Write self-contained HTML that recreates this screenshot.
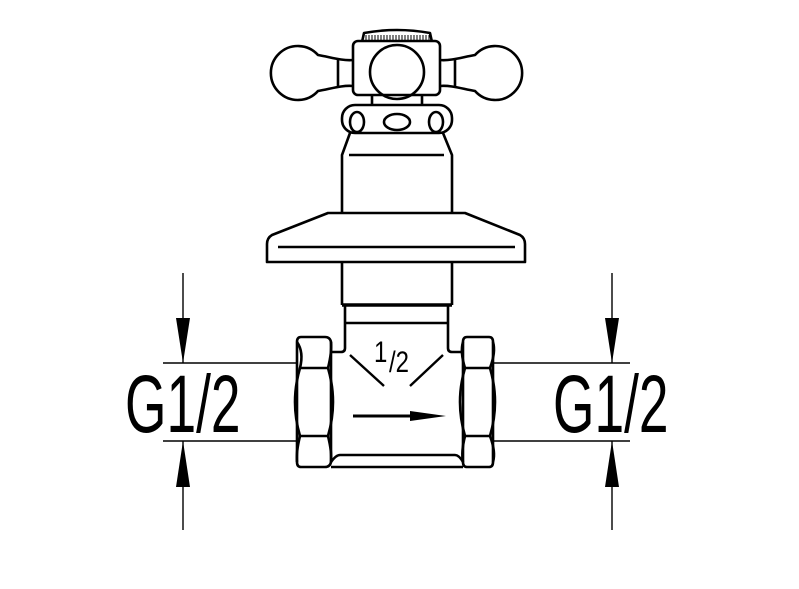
<!DOCTYPE html>
<html><head><style>html,body{margin:0;padding:0;background:#fff}svg{display:block}</style></head>
<body>
<svg width="799" height="589" viewBox="0 0 799 589" xmlns="http://www.w3.org/2000/svg">
<g fill="none" stroke="#000" stroke-width="2.6" stroke-linejoin="round">
<!-- knurl -->
<path d="M362,42 L364,33 Q397,27 430,33 L432,42 Z" fill="#fff"/>
<g stroke-width="1">
<path d="M366,35V41M369,35V41M372,35V41M375,35V41M378,35V41M381,35V41M384,35V41M387,35V41M390,35V41M393,35V41M396,35V41M399,35V41M402,35V41M405,35V41M408,35V41M411,35V41M414,35V41M417,35V41M420,35V41M423,35V41M426,35V41M429,35V41"/>
</g>
<!-- lobes -->
<path d="M353,60 C342,61 330,57 318,55 A27,27 0 1 0 318,91 C330,89 342,85 353,86" fill="#fff"/>
<path d="M338,60V86"/>
<path d="M440,60 C451,61 463,57 475,55 A27,27 0 1 1 475,91 C463,89 451,85 440,86" fill="#fff"/>
<path d="M455,60V86"/>
<rect x="353" y="41" width="87" height="54" rx="5" fill="#fff"/>
<circle cx="397" cy="72" r="27"/>
<!-- neck -->
<path d="M372,95V106M422,95V106"/>
<!-- collar -->
<rect x="342" y="105" width="110" height="28" rx="13"/>
<ellipse cx="357" cy="122" rx="7" ry="10"/>
<ellipse cx="397" cy="122" rx="13" ry="8"/>
<ellipse cx="436" cy="122" rx="7" ry="10"/>
<!-- stem -->
<path d="M350,133 L342,155 V213 M443,133 L452,155 V213"/>
<path d="M349,155 H444"/>
<!-- flange -->
<path d="M328,213 H465 L520,235 Q525,238 525,244 V262 H267 V244 Q267,238 272,235 Z"/>
<path d="M278,247 H515"/>
<!-- lower stem -->
<path d="M342,262 V305 M452,262 V305"/>
<path d="M342,305 H452" stroke-width="3.5"/>
<path d="M345,305 V348 Q345,352 341,352 H332 M448,305 V348 Q448,352 452,352 H461"/>
<path d="M345,323 H448"/>
<!-- nuts -->
<path d="M301,337 H325 Q330,337 331,342 V462 Q330,467 325,467 H301 Q297,467 297,462 V342 Q297,337 301,337 Z"/>
<path d="M297,342 Q304,352 300,368 H328 Q332,352 331,342"/>
<path d="M300,368 Q290,402 300,436 H328 Q338,402 328,368"/>
<path d="M300,436 Q296,452 297,462 M328,436 Q332,452 331,462"/>
<path d="M467,337 H489 Q493,337 493,342 V462 Q493,467 489,467 H467 Q463,467 463,462 V342 Q463,337 467,337 Z"/>
<path d="M463,342 Q460,352 465,368 H490 Q496,352 493,342"/>
<path d="M465,368 Q455,402 465,436 H490 Q500,402 490,368"/>
<path d="M465,436 Q461,452 463,462 M490,436 Q496,452 493,462"/>
<!-- body bottom -->
<path d="M331,462 Q336,455 340,455 H455 Q459,455 463,462"/>
<path d="M331,467 H463"/>
<!-- diagonals -->
<path d="M350,355 L384,386 M443,355 L410,386" stroke-width="2.4"/>
<path d="M353,416 H415" stroke-width="3"/>
</g>
<polygon points="410,411 446,416 410,421" fill="#000"/>
<text transform="translate(374,362) scale(0.8,1)" font-family="Liberation Sans, sans-serif" font-size="30">1</text>
<text transform="translate(389,372) scale(0.8,1)" font-family="Liberation Sans, sans-serif" font-size="30">/2</text>
<!-- dimensions -->
<g stroke="#000" stroke-width="1.4">
<path d="M163,363 H297 M163,441 H297 M183,273 V363 M183,441 V530"/>
<path d="M493,363 H630 M493,441 H630 M612,273 V363 M612,441 V530"/>
</g>
<g fill="#000">
<polygon points="176,318 190,318 183,363"/>
<polygon points="176,487 190,487 183,441"/>
<polygon points="605,318 619,318 612,363"/>
<polygon points="605,487 619,487 612,441"/>
</g>
<text transform="translate(125,432) scale(0.65,1)" font-family="Liberation Sans, sans-serif" font-size="82">G1/2</text>
<text transform="translate(553,432) scale(0.65,1)" font-family="Liberation Sans, sans-serif" font-size="82">G1/2</text>
</svg>
</body></html>
